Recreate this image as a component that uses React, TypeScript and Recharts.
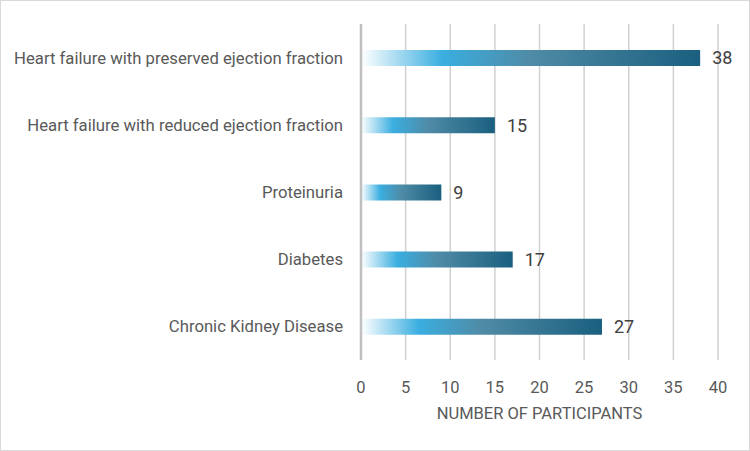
import { BarChart, Bar, XAxis, YAxis, CartesianGrid, LabelList } from 'recharts';

const categories = [
  'Heart failure with preserved ejection fraction',
  'Heart failure with reduced ejection fraction',
  'Proteinuria',
  'Diabetes',
  'Chronic Kidney Disease',
];
const participants = [38, 15, 9, 17, 27];
const xTicks = [0, 5, 10, 15, 20, 25, 30, 35, 40];

const data = categories.map((name, i) => ({ name, value: participants[i] }));

const FONT = 'Roboto, "Open Sans", sans-serif';

export default function App() {
  return (
    <div
      style={{
        position: 'fixed',
        left: 0,
        top: 0,
        width: 750,
        height: 451,
        background: '#fff',
        boxSizing: 'border-box',
        border: '1px solid #d9d9d9',
        fontFamily: FONT,
      }}
    >
      <BarChart
        width={748}
        height={449}
        data={data}
        layout="vertical"
        margin={{ top: 23, right: 31, left: 0, bottom: 28 }}
        barSize={16}
      >
        <defs>
          <linearGradient id="barGrad" x1="0" y1="0" x2="1" y2="0">
            <stop offset="0%" stopColor="#ffffff" />
            <stop offset="24%" stopColor="#3aaee0" />
            <stop offset="50%" stopColor="#4f8ba6" />
            <stop offset="100%" stopColor="#1a5f7f" />
          </linearGradient>
        </defs>
        <CartesianGrid horizontal={false} stroke="#d0d0d0" strokeWidth={1.5} />
        <XAxis
          type="number"
          domain={[0, 40]}
          ticks={xTicks}
          tickLine={false}
          axisLine={false}
          tickMargin={15}
          height={62}
          tick={{ fontSize: 16.5, fill: '#595959', fontFamily: FONT }}
          label={{
            value: 'NUMBER OF PARTICIPANTS',
            position: 'insideBottom',
            offset: 3,
            fontSize: 16.5,
            fill: '#595959',
            fontFamily: FONT,
          }}
        />
        <YAxis
          type="category"
          dataKey="name"
          width={360}
          tickLine={false}
          tickSize={0}
          tickMargin={18}
          axisLine={{ stroke: '#bfbfbf', strokeWidth: 2.5 }}
          tick={{ fontSize: 16.7, fill: '#595959', fontFamily: FONT }}
          interval={0}
        />
        <Bar dataKey="value" fill="url(#barGrad)" isAnimationActive={false}>
          <LabelList
            dataKey="value"
            position="right"
            offset={12}
            style={{ fontSize: 18, fill: '#404040', fontFamily: FONT }}
          />
        </Bar>
      </BarChart>
    </div>
  );
}
